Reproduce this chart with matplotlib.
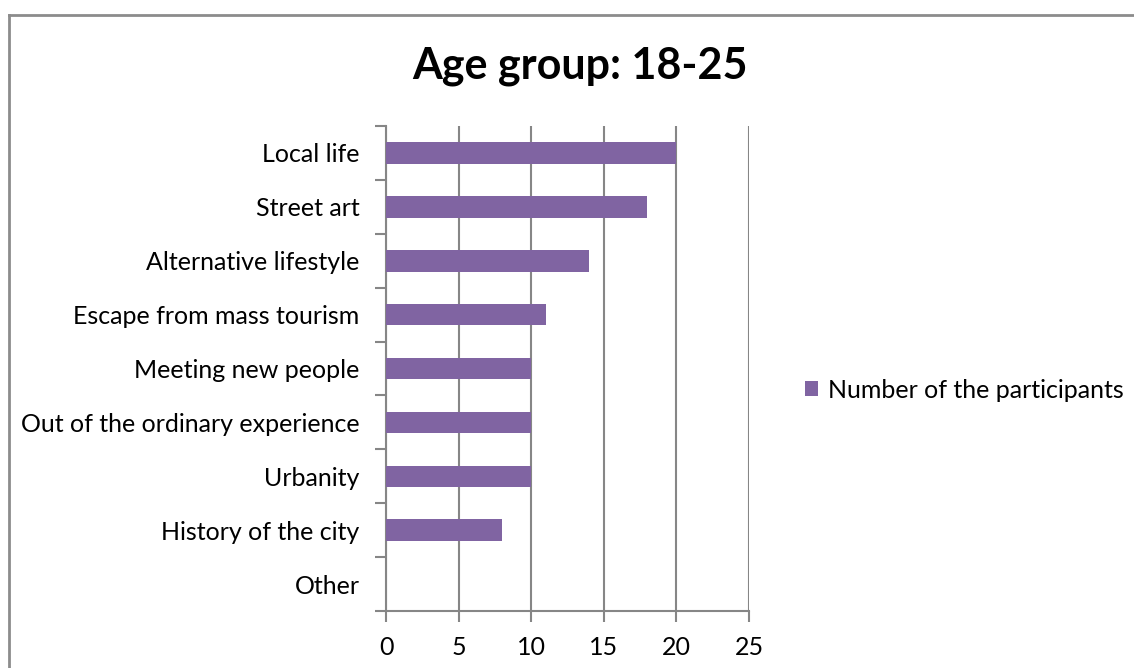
import matplotlib.pyplot as plt
from matplotlib.lines import Line2D

plt.rcParams['font.family'] = ['Lato', 'DejaVu Sans']

categories = ['Local life', 'Street art', 'Alternative lifestyle',
              'Escape from mass tourism', 'Meeting new people',
              'Out of the ordinary experience', 'Urbanity',
              'History of the city', 'Other']
participants = [20, 18, 14, 11, 10, 10, 10, 8, 0]
x_ticks = [0, 5, 10, 15, 20, 25]

bar_color = '#8064A2'
grid_color = '#868686'

fig = plt.figure(figsize=(11.34, 6.68), dpi=100)
ax = fig.add_axes([386 / 1134, 1 - 611 / 668, 363 / 1134, 485 / 668])

n = len(categories)
ypos = [n - 1 - i for i in range(n)]
ax.barh(ypos, participants, height=0.4, color=bar_color,
        label='Number of the participants', zorder=3)

ax.set_xlim(0, 25)
ax.set_ylim(-0.5, n - 0.5)
ax.set_xticks(x_ticks)
ax.set_xticklabels([str(t) for t in x_ticks], fontsize=18)
ax.xaxis.grid(True, color=grid_color, linewidth=1.5, zorder=0)
ax.tick_params(axis='x', length=8, width=1.5, color=grid_color, pad=10)

# category labels sit between the boundary ticks
ax.set_yticks(ypos)
ax.set_yticklabels(categories, fontsize=18)
ax.tick_params(axis='y', length=0, pad=19)
ax.set_yticks([k - 0.5 for k in range(n + 1)], minor=True)
ax.tick_params(axis='y', which='minor', length=8, width=1.5, color=grid_color)

for side in ['top', 'right']:
    ax.spines[side].set_visible(False)
for side in ['left', 'bottom']:
    ax.spines[side].set_color(grid_color)
    ax.spines[side].set_linewidth(1.5)

fig.text(580 / 1134, 1 - 66 / 668, 'Age group: 18-25', ha='center',
         va='center', fontsize=31, fontweight='bold')

fig.legend(loc='center left', bbox_to_anchor=(782 / 1134, 1 - 390 / 668),
           frameon=False, fontsize=18, handlelength=0.55, handleheight=0.55,
           handletextpad=0.4)

# outer chart border
fig.add_artist(Line2D([9 / 1134, 1.0], [1 - 15 / 668] * 2, color='#8c8c8c',
                      linewidth=2, transform=fig.transFigure))
fig.add_artist(Line2D([9 / 1134] * 2, [0, 1 - 15 / 668], color='#8c8c8c',
                      linewidth=2, transform=fig.transFigure))

fig.savefig('out.png', dpi=100)
